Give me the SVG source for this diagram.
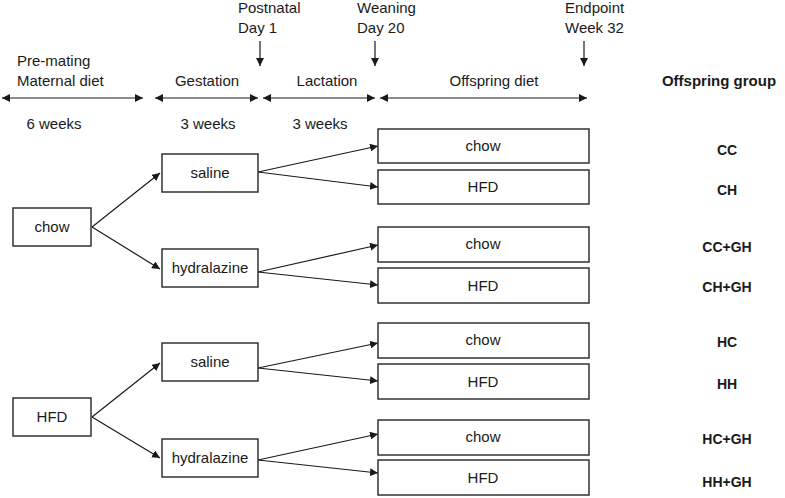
<svg xmlns="http://www.w3.org/2000/svg" width="785" height="498" viewBox="0 0 785 498">
<defs>
<marker id="ah" viewBox="0 0 10 10" refX="10" refY="5" markerWidth="8" markerHeight="8" markerUnits="userSpaceOnUse" orient="auto-start-reverse">
<path d="M0,0 L10,5 L0,10 Z" fill="#1a1a1a"/>
</marker>
</defs>
<style>
text{font-family:"Liberation Sans",Arial,sans-serif;font-size:15px;fill:#1a1a1a}
.m{text-anchor:middle}
.b{font-weight:bold;font-size:14px;text-anchor:middle}
rect{fill:#fff;stroke:#333;stroke-width:1.5}
.c line{stroke:#1a1a1a;stroke-width:1.2;marker-end:url(#ah)}
.c line.d{marker-start:url(#ah)}
</style>
<rect x="0" y="0" width="785" height="498" style="fill:#fff;stroke:none"/>
<g id="timeline">
<text x="17" y="66">Pre-mating</text>
<text x="17" y="86">Maternal diet</text>
<text x="238" y="13">Postnatal</text>
<text x="238" y="33">Day 1</text>
<text x="357" y="13">Weaning</text>
<text x="357" y="33">Day 20</text>
<text x="565" y="13">Endpoint</text>
<text x="565" y="33">Week 32</text>
<text class="m" x="207" y="86">Gestation</text>
<text class="m" x="327" y="86">Lactation</text>
<text class="m" x="494" y="86">Offspring diet</text>
<text x="719" y="86" style="font-weight:bold;text-anchor:middle">Offspring group</text>
<text class="m" x="54" y="129">6 weeks</text>
<text class="m" x="208" y="129">3 weeks</text>
<text class="m" x="320" y="129">3 weeks</text>
</g>
<g class="c" id="connectors">
<line class="d" x1="2" y1="98" x2="143" y2="98"/>
<line class="d" x1="155" y1="98" x2="258" y2="98"/>
<line class="d" x1="263" y1="98" x2="375" y2="98"/>
<line class="d" x1="380" y1="98" x2="587" y2="98"/>
<line x1="260" y1="41" x2="260" y2="66"/>
<line x1="375" y1="41" x2="375" y2="66"/>
<line x1="584" y1="41" x2="584" y2="66"/>
<line x1="92" y1="227" x2="160" y2="173"/>
<line x1="92" y1="227" x2="160" y2="269"/>
<line x1="258" y1="172" x2="378" y2="146"/>
<line x1="258" y1="172" x2="378" y2="187"/>
<line x1="258" y1="272" x2="378" y2="245"/>
<line x1="258" y1="272" x2="378" y2="285"/>
<line x1="92" y1="417" x2="160" y2="363"/>
<line x1="92" y1="417" x2="160" y2="458"/>
<line x1="258" y1="368" x2="378" y2="343"/>
<line x1="258" y1="368" x2="378" y2="381"/>
<line x1="258" y1="460" x2="378" y2="434"/>
<line x1="258" y1="460" x2="378" y2="473"/>
</g>
<g id="chow"><rect x="13" y="208" width="78" height="38"/><text class="m" x="52" y="232">chow</text></g>
<g id="hfd"><rect x="13" y="398" width="78" height="38"/><text class="m" x="52" y="422">HFD</text></g>
<g id="saline1"><rect x="162" y="154" width="96" height="38"/><text class="m" x="210" y="178">saline</text></g>
<g id="hydralazine1"><rect x="162" y="249" width="96" height="38"/><text class="m" x="210" y="273">hydralazine</text></g>
<g id="saline2"><rect x="162" y="343" width="96" height="38"/><text class="m" x="210" y="367">saline</text></g>
<g id="hydralazine2"><rect x="162" y="439" width="96" height="38"/><text class="m" x="210" y="463">hydralazine</text></g>
<g id="cc"><rect x="378" y="129" width="211" height="34"/><text class="m" x="483" y="151">chow</text></g>
<g id="ch"><rect x="378" y="170" width="211" height="34"/><text class="m" x="483" y="192">HFD</text></g>
<g id="ccgh"><rect x="378" y="227" width="211" height="35"/><text class="m" x="483" y="249">chow</text></g>
<g id="chgh"><rect x="378" y="268" width="211" height="35"/><text class="m" x="483" y="291">HFD</text></g>
<g id="hc"><rect x="378" y="323" width="211" height="35"/><text class="m" x="483" y="345">chow</text></g>
<g id="hh"><rect x="378" y="364" width="211" height="35"/><text class="m" x="483" y="387">HFD</text></g>
<g id="hcgh"><rect x="378" y="420" width="211" height="35"/><text class="m" x="483" y="442">chow</text></g>
<g id="hhgh"><rect x="378" y="460" width="211" height="35"/><text class="m" x="483" y="483">HFD</text></g>
<g id="groups">
<text class="b" x="727" y="155">CC</text>
<text class="b" x="727" y="195">CH</text>
<text class="b" x="727" y="252">CC+GH</text>
<text class="b" x="727" y="292">CH+GH</text>
<text class="b" x="727" y="347">HC</text>
<text class="b" x="727" y="389">HH</text>
<text class="b" x="727" y="444">HC+GH</text>
<text class="b" x="727" y="487">HH+GH</text>
</g>
</svg>
